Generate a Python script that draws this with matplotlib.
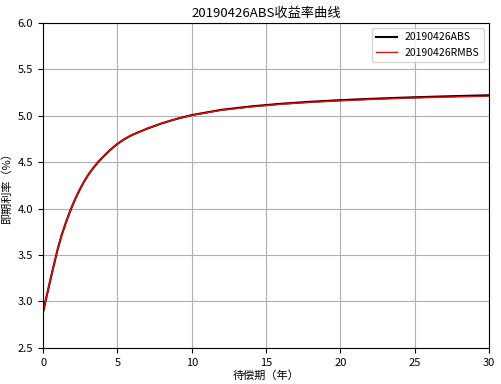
import matplotlib
matplotlib.use("Agg")
import matplotlib.pyplot as plt

plt.rcParams['font.family'] = ['Noto Sans CJK SC', 'DejaVu Sans']
plt.rcParams['axes.unicode_minus'] = False

term = [0, 0.25, 0.5, 0.75, 1, 1.25, 1.5, 1.75, 2, 2.25, 2.5, 2.75, 3, 3.25,
        3.5, 3.75, 4, 4.25, 4.5, 4.75, 5, 5.5, 6, 7, 8, 9, 10,
        12, 14, 16, 18, 20, 22, 24, 26, 28, 30]
abs_rate = [2.885, 3.065, 3.24, 3.41, 3.575, 3.715, 3.835, 3.945, 4.045, 4.135,
            4.215, 4.29, 4.355, 4.412, 4.463, 4.51, 4.552, 4.592, 4.63, 4.665,
            4.698, 4.752, 4.795, 4.862, 4.92, 4.968, 5.008, 5.065, 5.102, 5.13,
            5.152, 5.169, 5.183, 5.195, 5.205, 5.214, 5.222]
rmbs_rate = [2.885, 3.065, 3.24, 3.41, 3.575, 3.715, 3.835, 3.945, 4.045, 4.135,
             4.215, 4.29, 4.355, 4.412, 4.463, 4.51, 4.552, 4.592, 4.63, 4.665,
             4.698, 4.752, 4.795, 4.862, 4.92, 4.968, 5.006, 5.061, 5.097, 5.125,
             5.146, 5.162, 5.176, 5.188, 5.197, 5.205, 5.212]

title = "20190426ABS收益率曲线"
xlabel = "待偿期（年）"
ylabel = "即期利率（%）"
labels = ["20190426ABS", "20190426RMBS"]

fig = plt.figure(figsize=(5.01, 3.84), dpi=100)
ax = fig.add_axes([0.086, 0.094, 0.890, 0.846])
ax.plot(term, abs_rate, color='black', lw=1.5, label=labels[0])
ax.plot(term, rmbs_rate, color='red', lw=1.0, label=labels[1])
ax.set_xlim(0, 30)
ax.set_ylim(2.5, 6.0)
ax.set_xticks([0, 5, 10, 15, 20, 25, 30])
ax.set_yticks([2.5, 3.0, 3.5, 4.0, 4.5, 5.0, 5.5, 6.0])
ax.grid(True, color='#b0b0b0', lw=0.8)
ax.tick_params(labelsize=8)
ax.set_title(title, fontsize=9.5, pad=4)
ax.set_xlabel(xlabel, fontsize=8, labelpad=2)
ax.set_ylabel(ylabel, fontsize=8, labelpad=4)
ax.legend(loc='upper right', fontsize=7.5)
fig.savefig("out.png", dpi=100)
